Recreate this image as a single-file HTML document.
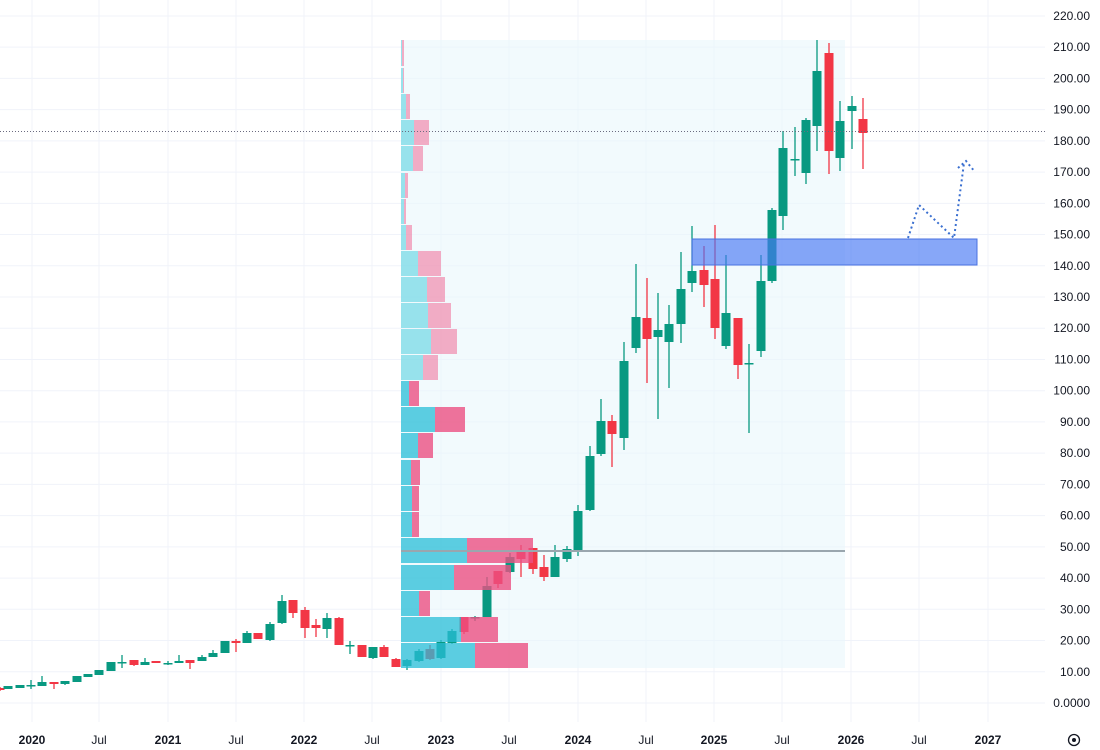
<!DOCTYPE html>
<html><head><meta charset="utf-8"><style>
html,body{margin:0;padding:0;background:#fff;width:1100px;height:750px;overflow:hidden}
svg text{font-family:"Liberation Sans",sans-serif;font-size:12px;fill:#131722}
</style></head><body>
<svg id="s" width="1100" height="750" xmlns="http://www.w3.org/2000/svg"></svg>
<script>
const s=document.getElementById('s');let h='';
const yv=v=>703-v*3.123;
// grid
for(let v=0;v<=220;v+=10){const y=yv(v);h+=`<line x1="0" x2="1045" y1="${y}" y2="${y}" stroke="#f0f3fa"/>`;
h+=`<text x="1090" y="${y+4}" text-anchor="end">${v==0?'0.0000':v.toFixed(2)}</text>`;}
const xs=[[32,'2020'],[99,'Jul'],[168,'2021'],[236,'Jul'],[304,'2022'],[372,'Jul'],[441,'2023'],[509,'Jul'],[578,'2024'],[646,'Jul'],[714,'2025'],[782,'Jul'],[851,'2026'],[919,'Jul'],[988,'2027']];
for(const [x,t] of xs){h+=`<line x1="${x}" x2="${x}" y1="0" y2="722" stroke="#f0f3fa"/><text x="${x}" y="744" text-anchor="middle" font-weight="${t=='Jul'?'normal':'bold'}">${t}</text>`;}
h+=`<rect x="401" y="40" width="444" height="628" fill="#e9f6fb" opacity="0.6"/>`;
// candles: x, o, c, hi, lo (pixel y)
const C=[[0,688,690,687,691],[8,689,686,686,689],[20,688,685,685,688],[31,685,685,680,689],[42,686,682,676,686],[54,682,684,682,689],[65,684,681,681,685],[77,682,676,676,682],[88,677,674,674,677],[99,675,670,670,675],[111,671,662,662,671],[122,662,662,655,668],[134,660,665,660,666],[145,665,662,658,665],[156,661,663,661,663],[168,663,663,661,665],[179,663,661,655,663],[190,660,663,660,669],[202,661,657,655,661],[213,657,653,650,657],[225,653,641,641,653],[236,641,643,639,652],[247,643,633,631,643],[258,633,639,633,639],[270,640,624,622,641],[282,623,601,595,624],[293,600,613,600,618],[305,610,628,607,638],[316,625,628,619,637],[327,629,618,613,638],[339,618,645,617,645],[350,645,645,641,654],[362,645,657,645,657],[373,658,647,647,659],[384,647,657,645,657],[396,659,667,658,667],
[407,666,660,659,670],[419,661,651,649,662],[430,649,659,645,660],[441,658,642,640,659],[452,643,631,629,644],[464,617,632,617,634],[475,617,617,616,621],[487,617,586,577,617],[498,571,584,571,588],[510,572,557,553,573],[521,550,559,545,577],[533,548,569,548,574],[544,567,577,555,581],[555,577,557,545,577],[567,559,549,546,562],[578,551,511,505,556],[590,510,456,446,511],[601,454,421,399,456],[612,421,434,415,467],[624,438,361,342,450],
[636,348,317,264,353],[647,318,339,278,383],[658,337,330,293,419],[669,342,324,305,388],[681,324,289,252,343],[692,283,271,226,292],[704,270,285,246,307],[715,279,328,225,339],[726,346,313,255,349],[738,318,365,318,379],[749,363,363,344,433],[761,351,281,255,357],[772,281,210,208,283],[783,216,148,131,230],[795,159,159,127,176],[806,173,120,118,184],[817,126,71,40,151],[829,53,151,43,174],[840,158,121,101,171],[852,111,106,96,149],[863,119,133,98,169]];
for(const [x,o,c,hi,lo] of C){const col=c<=o?'#089981':'#f23645';const t=Math.min(o,c),b=Math.max(o,c);
h+=`<line x1="${x}" x2="${x}" y1="${hi}" y2="${lo}" stroke="${col}" stroke-width="1.3"/>`;
h+=`<rect x="${x-4.5}" y="${t}" width="9" height="${Math.max(b-t,1.5)}" fill="${col}"/>`;}
// volume profile
const P=[[643,475,528,1],[617,461,498,1],[591,419,430,1],[565,454,511,1],[538,467,533,1],[512,412,419,1],[486,412,419,1],[460,411,420,1],[433,418,433,1],[407,435,465,1],[381,409,419,1],[355,423,438,0],[329,431,457,0],[303,428,451,0],[277,427,445,0],[251,418,441,0],[225,406,412,0],[199,404,406,0],[173,405,408,0],[146,413,423,0],[120,414,429,0],[94,406,410,0],[68,403,404,0],[40,402,404,0]];
for(const [y,c,p,d] of P){const hh=y==40?26:25;
h+=`<rect x="401" y="${y}" width="${c-401}" height="${hh}" fill="${d?'rgba(40,190,215,0.75)':'rgba(90,210,225,0.6)'}"/>`;
h+=`<rect x="${c}" y="${y}" width="${p-c}" height="${hh}" fill="${d?'rgba(235,80,130,0.8)':'rgba(240,120,160,0.6)'}"/>`;}
h+=`<line x1="401" x2="845" y1="551" y2="551" stroke="#9aa6ae" stroke-width="2"/>`;
h+=`<line x1="0" x2="1045" y1="131.5" y2="131.5" stroke="#6b6b80" stroke-dasharray="1,2"/>`;
h+=`<rect x="692" y="239" width="285" height="26" fill="rgba(70,120,245,0.65)" stroke="#4a72e0"/>`;
h+=`<polyline points="908,238 919,205 954,238 964,163" fill="none" stroke="#3a6fd0" stroke-width="2" stroke-dasharray="2,3"/>`;
h+=`<polyline points="958,168 966,161 975,172" fill="none" stroke="#3a6fd0" stroke-width="2" stroke-dasharray="2,3"/>`;
h+=`<circle cx="1074" cy="740" r="5.5" fill="none" stroke="#131722" stroke-width="1.3"/><circle cx="1074" cy="740" r="2" fill="#131722"/>`;
s.innerHTML=h;
</script>
</body></html>
